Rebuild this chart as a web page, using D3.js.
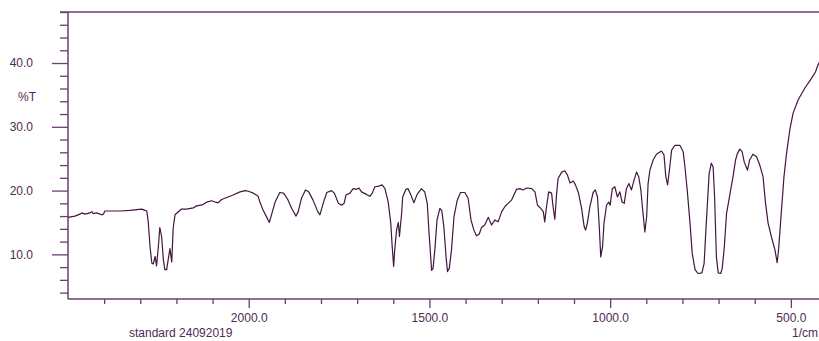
<!DOCTYPE html>
<html lang="en">
<head>
  <meta charset="UTF-8">
  <title>IR spectrum</title>
  <style>
    body { margin: 0; background: #fff; }
    text { font-family: "Liberation Sans", Arial, sans-serif; font-size: 12px; fill: #4e2a55; }
  </style>
</head>
<body>
  <script src="https://d3js.org/d3.v7.min.js"></script>
  <div id="chart"></div>

  <script>
    // spectrum: wavenumber (1/cm) and %T
    const wavenumber = [
      2500, 2481, 2467, 2462, 2453, 2439, 2434, 2430, 2421, 2411, 2407, 2402, 2398, 2384, 2356, 2329,
      2296, 2287, 2282, 2278, 2273, 2268, 2264, 2259, 2255, 2250, 2246, 2241, 2236, 2232, 2227, 2223,
      2218, 2213, 2209, 2204, 2186, 2172, 2153, 2144, 2126, 2116, 2103, 2093, 2084, 2075, 2057, 2043,
      2024, 2010, 2001, 1987, 1974, 1969, 1960, 1950, 1943, 1937, 1927, 1914, 1904, 1900, 1891, 1881,
      1869, 1863, 1854, 1843, 1834, 1822, 1809, 1803, 1794, 1784, 1771, 1763, 1752, 1743, 1736, 1731,
      1720, 1711, 1701, 1695, 1688, 1674, 1665, 1658, 1651, 1640, 1631, 1623, 1614, 1607, 1603, 1599,
      1596, 1591, 1586, 1583, 1577, 1574, 1565, 1559, 1552, 1543, 1534, 1522, 1513, 1506, 1501, 1494,
      1490, 1485, 1479, 1471, 1466, 1460, 1454, 1450, 1445, 1439, 1432, 1423, 1414, 1402, 1393, 1385,
      1377, 1370, 1362, 1356, 1347, 1337, 1328, 1319, 1310, 1300, 1291, 1282, 1273, 1259, 1250, 1241,
      1231, 1217, 1208, 1201, 1192, 1185, 1181, 1176, 1170, 1162, 1158, 1153, 1148, 1144, 1134, 1125,
      1118, 1111, 1102, 1096, 1088, 1079, 1072, 1068, 1063, 1056, 1047, 1041, 1035, 1030, 1026, 1021,
      1017, 1010, 1004, 1000, 994, 987, 980, 973, 967, 961, 955, 948, 941, 934, 927, 921,
      915, 909, 904, 899, 895, 890, 881, 872, 858, 851, 846, 841, 835, 830, 821, 807,
      798, 793, 786, 779, 773, 765, 757, 746, 740, 734, 726, 720, 715, 711, 706, 701,
      694, 690, 684, 678, 669, 660, 653, 648, 641, 635, 629, 620, 614, 605, 595, 586,
      577, 570, 563, 554, 544, 538, 534, 526, 519, 512, 503, 494, 480, 462, 443, 432,
      425, 415
    ]
    const transmittance = [
      15.8, 16.0, 16.3, 16.5, 16.3, 16.5, 16.7, 16.4, 16.5, 16.3, 16.2, 16.3, 16.8, 16.8, 16.8, 16.9,
      17.1, 16.9, 16.8, 15.1, 11.2, 8.6, 8.5, 9.7, 8.2, 11.2, 14.2, 12.8, 9.1, 7.6, 7.6, 9.1,
      10.9, 8.8, 14.1, 16.2, 17.1, 17.1, 17.3, 17.6, 17.8, 18.2, 18.4, 18.2, 18.1, 18.6, 19.0, 19.3,
      19.8, 20.0, 19.9, 19.6, 19.1, 18.2, 16.9, 15.8, 15.0, 16.2, 18.2, 19.7, 19.6, 19.3, 18.5, 17.2,
      16.0, 16.7, 18.8, 20.1, 19.8, 18.5, 16.7, 16.2, 18.0, 19.7, 20.0, 19.6, 18.0, 17.7, 18.0, 19.3,
      19.6, 20.3, 20.2, 20.4, 19.8, 19.4, 19.1, 19.6, 20.6, 20.7, 20.9, 20.3, 18.2, 14.9, 11.2, 8.1,
      10.7, 13.8, 15.0, 12.8, 16.4, 19.0, 20.2, 20.3, 19.4, 18.1, 19.4, 20.3, 19.8, 18.0, 13.3, 7.5,
      7.8, 10.7, 15.4, 17.2, 16.9, 14.3, 9.6, 7.3, 7.8, 10.7, 15.9, 18.5, 19.7, 19.7, 18.8, 15.4,
      13.8, 12.9, 13.2, 14.2, 14.6, 15.8, 14.6, 15.4, 15.1, 16.7, 17.5, 18.0, 18.5, 20.2, 20.3, 20.1,
      20.4, 20.3, 19.8, 17.7, 17.2, 16.7, 15.1, 17.5, 19.8, 19.6, 17.5, 15.5, 19.6, 21.9, 22.9, 23.1,
      22.4, 21.2, 21.5, 20.9, 19.7, 17.2, 14.4, 13.8, 14.9, 17.5, 19.7, 20.1, 19.0, 14.3, 9.6, 11.2,
      14.9, 17.7, 18.2, 17.7, 20.3, 20.6, 19.0, 19.8, 18.2, 18.0, 20.3, 21.1, 20.1, 21.6, 22.9, 22.2,
      20.1, 16.4, 13.5, 15.9, 21.1, 23.2, 24.8, 25.7, 26.2, 25.6, 22.2, 20.9, 23.7, 26.3, 27.1, 27.1,
      26.1, 23.7, 19.6, 14.9, 10.2, 7.6, 7.0, 7.1, 8.6, 14.9, 22.7, 24.3, 23.7, 19.0, 9.6, 7.1,
      7.0, 7.8, 11.2, 16.4, 19.3, 22.2, 24.8, 25.8, 26.5, 26.1, 24.5, 23.2, 24.8, 25.7, 25.3, 24.0,
      22.2, 18.0, 14.9, 12.8, 10.7, 8.7, 10.7, 16.9, 22.2, 25.8, 29.5, 32.1, 34.2, 36.0, 37.6, 38.6,
      39.7, 40.8
    ]
    const xMajorTicks = [2000, 1500, 1000, 500]
    const xMinorTicks = [2400, 2300, 2200, 2100, 1900, 1800, 1700, 1600, 1400, 1300, 1200, 1100,
      900, 800, 700, 600, 400]
    const yMajorTicks = [10, 20, 30, 40]
    const yMinorTicks = [4, 6, 8, 12, 14, 16, 18, 22, 24, 26, 28, 32, 34, 36, 38, 42, 44, 46, 48]

    const data = wavenumber.map((w, i) => ({w: w, t: transmittance[i]}))

    const width = 819
    const height = 341
    const plotLeft = 68
    const plotTop = 12
    const plotBottom = 299

    const axisColour = '#6a3f70'
    const lineColour = '#431640'

    const x = d3.scaleLinear().domain([2500, 400]).range([plotLeft, 827])
    const y = d3.scaleLinear().domain([3, 48]).range([plotBottom, plotTop])

    const svg = d3.select('#chart')
      .append('svg')
      .attr('width', width)
      .attr('height', height)

    // y axis: long major ticks, short minor ticks
    svg.append('g')
      .attr('transform', `translate(${plotLeft},0)`)
      .call(d3.axisLeft(y).tickValues(yMajorTicks).tickSize(16).tickPadding(19)
        .tickFormat(d3.format('.1f')))
    svg.append('g')
      .attr('transform', `translate(${plotLeft},0)`)
      .call(d3.axisLeft(y).tickValues(yMinorTicks).tickSize(8).tickFormat(''))

    // x axis
    svg.append('g')
      .attr('transform', `translate(0,${plotBottom})`)
      .call(d3.axisBottom(x).tickValues(xMajorTicks).tickSize(9).tickPadding(5)
        .tickFormat(d3.format('.1f')))
    svg.append('g')
      .attr('transform', `translate(0,${plotBottom})`)
      .call(d3.axisBottom(x).tickValues(xMinorTicks).tickSize(5).tickFormat(''))

    svg.selectAll('.domain').remove()
    svg.selectAll('.tick line').attr('stroke', axisColour).attr('stroke-width', 1.3)
    svg.selectAll('.tick text').attr('fill', '#4e2a55').style('font-size', '12px')
      .style('font-family', '"Liberation Sans", Arial, sans-serif')

    // frame lines
    svg.append('line')
      .attr('x1', plotLeft).attr('x2', plotLeft).attr('y1', plotTop).attr('y2', plotBottom)
      .attr('stroke', axisColour).attr('stroke-width', 1.5)
    svg.append('line')
      .attr('x1', plotLeft).attr('x2', width).attr('y1', plotBottom).attr('y2', plotBottom)
      .attr('stroke', axisColour).attr('stroke-width', 1.5)
    svg.append('line')
      .attr('x1', plotLeft - 8).attr('x2', width).attr('y1', plotTop).attr('y2', plotTop)
      .attr('stroke', axisColour).attr('stroke-width', 1.5)

    // the spectrum
    svg.append('path')
      .datum(data)
      .attr('fill', 'none')
      .attr('stroke', lineColour)
      .attr('stroke-width', 1.2)
      .attr('stroke-linejoin', 'round')
      .attr('d', d3.line().x(d => x(d.w)).y(d => y(d.t)))

    // labels
    svg.append('text').attr('x', 36).attr('y', 101).attr('text-anchor', 'end').text('%T')
    svg.append('text').attr('x', 129).attr('y', 337).text('standard 24092019')
    svg.append('text').attr('x', 818).attr('y', 337).attr('text-anchor', 'end').text('1/cm')
  </script>
</body>
</html>
